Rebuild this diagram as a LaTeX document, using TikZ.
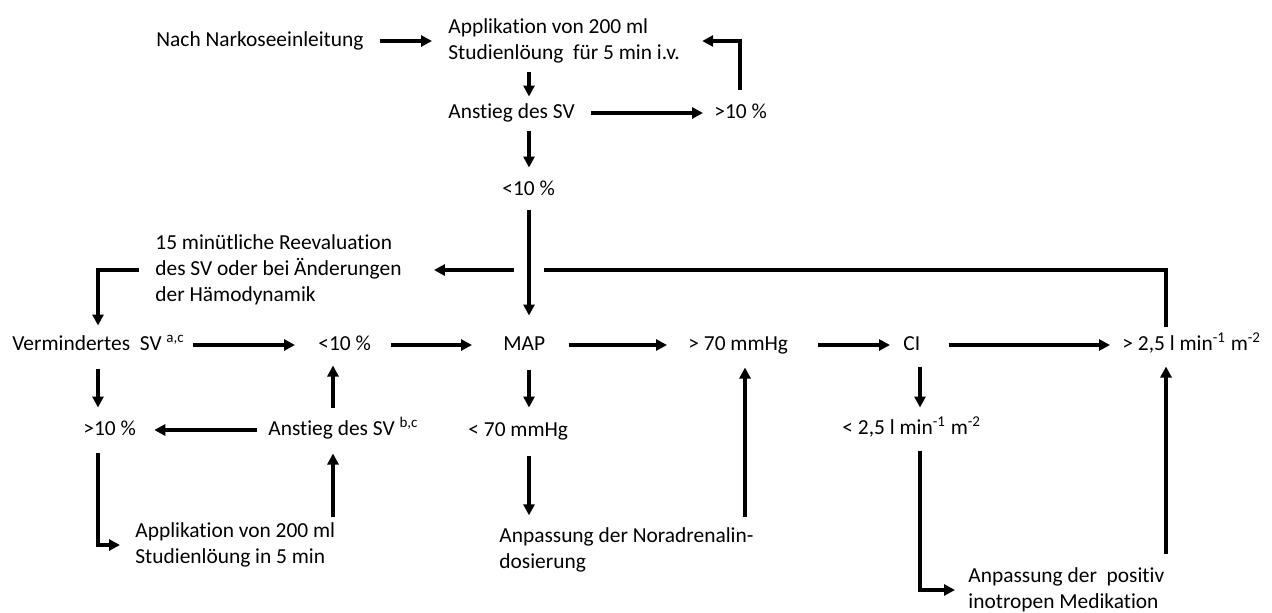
\documentclass[tikz,border=0pt]{standalone}
\usepackage{fontspec}
\setmainfont{Carlito}[Ligatures=NoCommon]
\usetikzlibrary{arrows.meta,calc}
\tikzset{
    lbl/.style={anchor=west,inner sep=0pt,font=\fontsize{10.7}{13}\selectfont,text height=7.7pt,text depth=2.4pt},
    mlbl/.style={anchor=west,inner sep=0pt,font=\fontsize{10.7}{13}\selectfont,align=left},
    arr/.style={line width=1.9pt,-{Triangle[length=5.5pt,width=5.5pt]}}
}
\begin{document}
\begin{tikzpicture}[x=0.5pt,y=-0.5pt]
    \useasboundingbox (0,0) rectangle (1272,612);

    \node [ lbl ] (nach) at (156,41) {Nach Narkoseeinleitung};
    \node [ mlbl ] (appl) at (448,41) {Applikation von 200 ml\\Studienlöung\ \ für 5 min i.v.};
    \node [ lbl ] (anst) at (448,113) {Anstieg des SV};
    \node [ lbl ] (gtA) at (714,113) {>10 \%};
    \node [ lbl ] (ltA) at (502,190) {<10 \%};
    \node [ mlbl ] (reev) at (155,270) {15 minütliche Reevaluation\\des SV oder bei Änderungen\\der Hämodynamik};

    \node [ lbl ] (verm) at (12,345) {Vermindertes\ \ SV \textsuperscript{a,c}};
    \node [ lbl ] (ltB) at (318,345) {<10 \%};
    \node [ lbl ] (map) at (503,345) {MAP};
    \node [ lbl ] (gtP) at (688,345) {> 70 mmHg};
    \node [ lbl ] (ci) at (903,345) {CI};
    \node [ lbl ] (gtC) at (1122,345) {> 2,5 l min\textsuperscript{-1} m\textsuperscript{-2}};

    \node [ lbl ] (gtB) at (83,430) {>10 \%};
    \node [ lbl ] (anstB) at (268,430) {Anstieg des SV \textsuperscript{b,c}};
    \node [ lbl ] (ltP) at (468,431) {< 70 mmHg};
    \node [ lbl ] (ltC) at (842,429) {< 2,5 l min\textsuperscript{-1} m\textsuperscript{-2}};

    \node [ mlbl ] (applB) at (135,545) {Applikation von 200 ml\\Studienlöung in 5 min};
    \node [ mlbl ] (nor) at (499,550) {Anpassung der Noradrenalin-\\dosierung};
    \node [ mlbl ] (ino) at (968,590) {Anpassung der\ \ positiv\\inotropen Medikation};

    \coordinate (cV) at (98,0); \coordinate (cS) at (333,0); \coordinate (cA) at (529,0);
    \coordinate (cG) at (740,0); \coordinate (cP) at (745,0); \coordinate (cC) at (920,0);
    \coordinate (cR) at (1166,0);

    \draw [ arr,shorten <=8pt,shorten >=8pt ] (nach.east) -- (appl.west);
    \draw [ arr,shorten <=4pt,shorten >=3pt ] (appl.south -| cA) -- (anst.north -| cA);
    \draw [ arr,shorten <=8pt,shorten >=5.5pt ] (anst.east) -- (gtA.west);
    \draw [ arr,shorten <=6.5pt,shorten >=11pt ] (gtA.north -| cG) |- (appl.east);
    \draw [ arr,shorten <=3.5pt,shorten >=6pt ] (anst.south -| cA) -- (ltA.north -| cA);

    \draw [ arr,shorten <=4pt,shorten >=16pt ] (gtC.north -| cR) |- (reev.east);
    \coordinate (hop) at (cA |- reev.east);
    \fill [ white ] ($(hop)+(-15,-5)$) rectangle ($(hop)+(15,5)$);
    \draw [ arr,shorten <=4.5pt,shorten >=9.5pt ] (ltA.south -| cA) -- (map.north -| cA);
    \draw [ arr,shorten <=8pt,shorten >=4.5pt ] (reev.west) -| (verm.north -| cV);

    \draw [ arr,shorten <=4pt,shorten >=11.5pt ] (verm.east) -- (ltB.west);
    \draw [ arr,shorten <=10pt,shorten >=15.5pt ] (ltB.east) -- (map.west);
    \draw [ arr,shorten <=11.5pt,shorten >=10.5pt ] (map.east) -- (gtP.west);
    \draw [ arr,shorten <=15pt,shorten >=6.5pt ] (gtP.east) -- (ci.west);
    \draw [ arr,shorten <=14pt,shorten >=6pt ] (ci.east) -- (gtC.west);

    \draw [ arr,shorten <=6.5pt,shorten >=6pt ] (verm.south -| cV) -- (gtB.north -| cV);
    \draw [ arr,shorten <=6pt,shorten >=5pt ] (anstB.north -| cS) -- (ltB.south -| cS);
    \draw [ arr,shorten <=7pt,shorten >=6.5pt ] (map.south -| cA) -- (ltP.north -| cA);
    \draw [ arr,shorten <=5pt,shorten >=6pt ] (nor.north -| cP) -- (gtP.south -| cP);
    \draw [ arr,shorten <=5.5pt,shorten >=5.5pt ] (ci.south -| cC) -- (ltC.north -| cC);
    \draw [ arr,shorten <=6.5pt,shorten >=5.5pt ] (ino.north -| cR) -- (gtC.south -| cR);

    \draw [ arr,shorten <=5.5pt,shorten >=9pt ] (anstB.west) -- (gtB.east);
    \draw [ arr,shorten <=6pt,shorten >=7.5pt ] (gtB.south -| cV) |- (applB.west);
    \draw [ arr,shorten <=2.5pt,shorten >=6.5pt ] (applB.north -| cS) -- (anstB.south -| cS);
    \draw [ arr,shorten <=7pt,shorten >=6pt ] (ltP.south -| cA) -- (nor.north -| cA);
    \draw [ arr,shorten <=5.5pt,shorten >=6.5pt ] (ltC.south -| cC) |- (ino.west);
\end{tikzpicture}
\end{document}
